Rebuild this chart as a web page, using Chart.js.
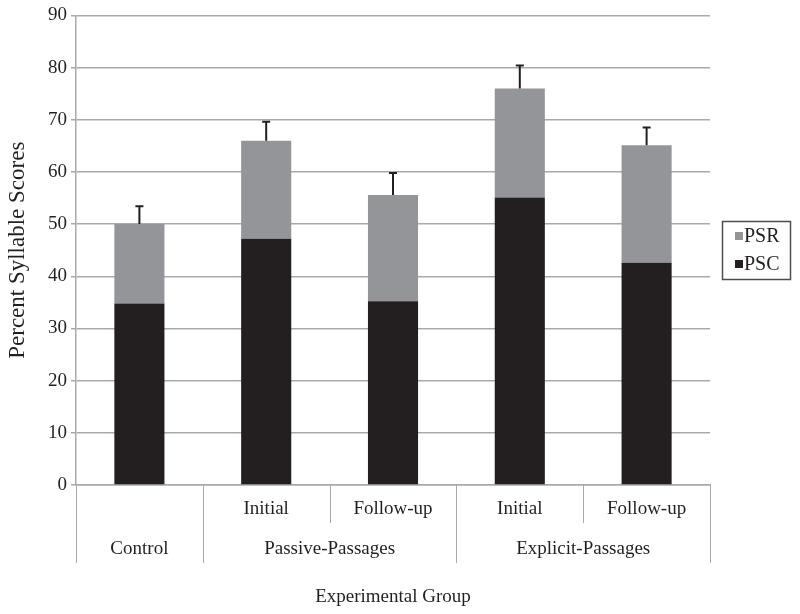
<!DOCTYPE html>
<html>
<head>
<meta charset="utf-8">
<script src="https://cdn.jsdelivr.net/npm/chart.js@4"></script>
<style>
  html, body { margin: 0; padding: 0; background: #fff; }
  #wrap { width: 800px; height: 614px; }
</style>
</head>
<body>
<div id="wrap"><canvas id="chart"></canvas></div>
<script>
// categories and their two-level axis labels
const categories = ['Control', 'Passive Initial', 'Passive Follow-up', 'Explicit Initial', 'Explicit Follow-up'];
const subLabels = ['', 'Initial', 'Follow-up', 'Initial', 'Follow-up'];
const groupLabels = ['Control', 'Passive-Passages', 'Explicit-Passages'];
const groupStart = [0, 1, 3];
const groupEnd = [0, 2, 4];

// series values (stacked) and error (upper whisker length)
const pscValues = [34.8, 47.2, 35.2, 55.1, 42.6];
const psrValues = [15.2, 18.8, 20.4, 20.9, 22.5];
const errValues = [3.4, 3.6, 4.2, 4.4, 3.4];

const yTicks = [0, 10, 20, 30, 40, 50, 60, 70, 80, 90];

const ink = '#231f20';
const barGray = '#939598';
const gridGray = '#a7a9ac';
const serif = "'Liberation Serif', 'Times New Roman', serif";

// whiskers on top of each stacked bar
const errorBars = {
  id: 'errorBars',
  afterDatasetsDraw(chart) {
    const ctx = chart.ctx;
    const y = chart.scales.y;
    const meta = chart.getDatasetMeta(1);
    ctx.save();
    ctx.strokeStyle = ink;
    ctx.lineWidth = 2;
    meta.data.forEach((bar, i) => {
      const top = y.getPixelForValue(pscValues[i] + psrValues[i]);
      const end = y.getPixelForValue(pscValues[i] + psrValues[i] + errValues[i]);
      ctx.beginPath();
      ctx.moveTo(bar.x, top);
      ctx.lineTo(bar.x, end);
      ctx.moveTo(bar.x - 4, end);
      ctx.lineTo(bar.x + 4, end);
      ctx.stroke();
    });
    ctx.restore();
  }
};

// grouped x labels with separator lines
const groupAxis = {
  id: 'groupAxis',
  afterDraw(chart) {
    const ctx = chart.ctx;
    const x = chart.scales.x;
    const base = chart.chartArea.bottom;
    const step = x.width / categories.length;
    ctx.save();
    ctx.strokeStyle = gridGray;
    ctx.lineWidth = 1;
    for (let i = 0; i <= categories.length; i++) {
      const px = Math.round(x.left + step * i) + 0.5;
      const full = i === 0 || i === categories.length || groupStart.includes(i);
      ctx.beginPath();
      ctx.moveTo(px, base);
      ctx.lineTo(px, base + (full ? 78 : 38));
      ctx.stroke();
    }
    ctx.fillStyle = ink;
    ctx.font = '19px ' + serif;
    ctx.textAlign = 'center';
    ctx.textBaseline = 'middle';
    subLabels.forEach((t, i) => {
      if (t) ctx.fillText(t, x.getPixelForValue(i), base + 24);
    });
    groupLabels.forEach((t, g) => {
      const cx = (x.getPixelForValue(groupStart[g]) + x.getPixelForValue(groupEnd[g])) / 2;
      ctx.fillText(t, cx, base + 64);
    });
    ctx.restore();
  }
};

// boxed legend at the right
const boxLegend = {
  id: 'boxLegend',
  afterDraw(chart) {
    const ctx = chart.ctx;
    ctx.save();
    ctx.strokeStyle = '#4d4d4f';
    ctx.lineWidth = 1.5;
    ctx.strokeRect(722.5, 221.5, 68, 58);
    const items = [['PSR', barGray, 236], ['PSC', ink, 264]];
    ctx.font = '20px ' + serif;
    ctx.textBaseline = 'middle';
    items.forEach(([label, color, cy]) => {
      ctx.fillStyle = color;
      ctx.fillRect(735, cy - 4, 8, 8);
      ctx.fillStyle = ink;
      ctx.fillText(label, 744, cy + 1);
    });
    ctx.restore();
  }
};

new Chart(document.getElementById('chart'), {
  type: 'bar',
  data: {
    labels: categories,
    datasets: [
      { label: 'PSC', data: pscValues, backgroundColor: ink, barPercentage: 0.395, categoryPercentage: 1 },
      { label: 'PSR', data: psrValues, backgroundColor: barGray, barPercentage: 0.395, categoryPercentage: 1 }
    ]
  },
  options: {
    responsive: true,
    maintainAspectRatio: false,
    animation: false,
    layout: { padding: { top: 15, right: 90, left: 0, bottom: 0 } },
    plugins: {
      legend: { display: false },
      tooltip: { enabled: false }
    },
    scales: {
      x: {
        stacked: true,
        grid: { display: false },
        border: { display: true, color: gridGray, width: 1.5 },
        ticks: { display: false },
        title: {
          display: true,
          text: 'Experimental Group',
          color: ink,
          font: { family: serif, size: 19 },
          padding: { top: 0, bottom: 6 }
        },
        afterFit(scale) { scale.height = 129; }
      },
      y: {
        stacked: true,
        min: 0,
        max: 90,
        afterBuildTicks(scale) { scale.ticks = yTicks.map(v => ({ value: v })); },
        grid: { color: gridGray, lineWidth: 1.5, tickLength: 5, drawTicks: true },
        border: { display: true, color: gridGray, width: 1.5 },
        ticks: {
          color: ink,
          padding: 4,
          font: { family: serif, size: 19 }
        },
        title: {
          display: true,
          text: 'Percent Syllable Scores',
          color: ink,
          font: { family: serif, size: 23 },
          padding: { top: 4, bottom: 0 }
        },
        afterFit(scale) { scale.width = 76; }
      }
    }
  },
  plugins: [errorBars, groupAxis, boxLegend]
});
</script>
</body>
</html>
